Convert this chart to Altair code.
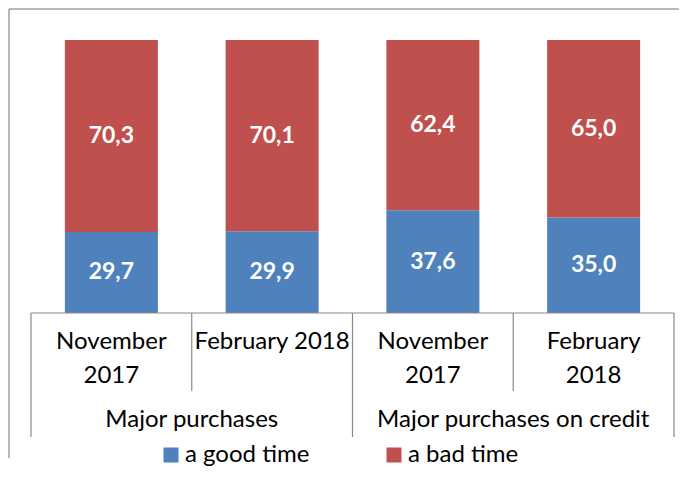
import altair as alt
import pandas as pd

# ---- data ----
groups = ["Major purchases", "Major purchases on credit"]
periods = ["November\n2017", "February 2018", "November\n2017", "February\n2018"]
good = [29.7, 29.9, 37.6, 35.0]
bad = [70.3, 70.1, 62.4, 65.0]
series = ["a good time", "a bad time"]
colors = ["#4F81BD", "#C0504D"]

FONT = "Lato"

def fmt(v):
    return f"{v:.1f}".replace(".", ",")

rows = []
for i in range(len(periods)):
    pos = i + 0.5
    rows.append(dict(pos=pos, series=series[0], start=0.0, end=good[i], label=fmt(good[i])))
    rows.append(dict(pos=pos, series=series[1], start=good[i], end=good[i] + bad[i], label=fmt(bad[i])))
bars_df = pd.DataFrame(rows)
bars_df["mid"] = (bars_df["start"] + bars_df["end"]) / 2

period_df = pd.DataFrame({"pos": [i + 0.5 for i in range(len(periods))], "period": periods})
group_df = pd.DataFrame({"pos": [1.0, 3.0], "group": groups})
inner_df = pd.DataFrame({"x": [1.0, 3.0]})
outer_df = pd.DataFrame({"x": [0.0, 2.0, 4.0]})
axis_df = pd.DataFrame({"a": [0.0], "b": [4.0]})

xs = alt.Scale(domain=[0, 4], nice=False, zero=False)
ys = alt.Scale(domain=[0, 100], nice=False)

W, H = 653, 273

bars = alt.Chart(bars_df).mark_bar(size=93).encode(
    x=alt.X("pos:Q", scale=xs, axis=None),
    y=alt.Y("start:Q", scale=ys, axis=None),
    y2="end:Q",
    color=alt.Color(
        "series:N",
        scale=alt.Scale(domain=series, range=colors),
        legend=alt.Legend(
            title=None, orient="none", legendX=133, legendY=403,
            direction="horizontal", symbolType="square", symbolSize=225,
            symbolStrokeWidth=0, labelFont=FONT, labelFontSize=24,
            labelColor="#000000", columnPadding=72, labelOffset=2, padding=0,
        ),
    ),
)

bar_labels = alt.Chart(bars_df).mark_text(
    font=FONT, fontSize=23, fontWeight="bold", color="white", baseline="middle"
).encode(
    x=alt.X("pos:Q", scale=xs),
    y=alt.Y("mid:Q", scale=ys),
    text="label:N",
)

axis_line = alt.Chart(axis_df).mark_rule(color="#898989", strokeWidth=1.2).encode(
    x=alt.X("a:Q", scale=xs), x2="b:Q", y=alt.datum(0, scale=ys)
)

inner_div = alt.Chart(inner_df).mark_rule(color="#898989", strokeWidth=1.2).encode(
    x=alt.X("x:Q", scale=xs), y=alt.value(H), y2=alt.value(H + 78)
)
outer_div = alt.Chart(outer_df).mark_rule(color="#898989", strokeWidth=1.2).encode(
    x=alt.X("x:Q", scale=xs), y=alt.value(H), y2=alt.value(H + 124)
)

period_text = alt.Chart(period_df).mark_text(
    font=FONT, fontSize=24, color="#000000", baseline="top", lineBreak="\n", lineHeight=34
).encode(
    x=alt.X("pos:Q", scale=xs), y=alt.value(H + 17), text="period:N"
)

group_text = alt.Chart(group_df).mark_text(
    font=FONT, fontSize=24, color="#000000", baseline="middle"
).encode(
    x=alt.X("pos:Q", scale=xs), y=alt.value(H + 107), text="group:N"
)

border_top = alt.Chart(axis_df).mark_rule(color="#A0A0A0", strokeWidth=1.5).encode(
    x=alt.value(-17), x2=alt.value(W), y=alt.value(-31)
)
border_left = alt.Chart(axis_df).mark_rule(color="#A0A0A0", strokeWidth=1.5).encode(
    x=alt.value(-17), y=alt.value(-31), y2=alt.value(H + 145)
)

chart = alt.layer(
    border_top, border_left, bars, bar_labels, axis_line, inner_div, outer_div,
    period_text, group_text,
).properties(
    width=W, height=H, padding=0, background="white"
).configure_view(stroke=None)

chart.save("out.html", embed_options={"renderer": "svg", "actions": False})
